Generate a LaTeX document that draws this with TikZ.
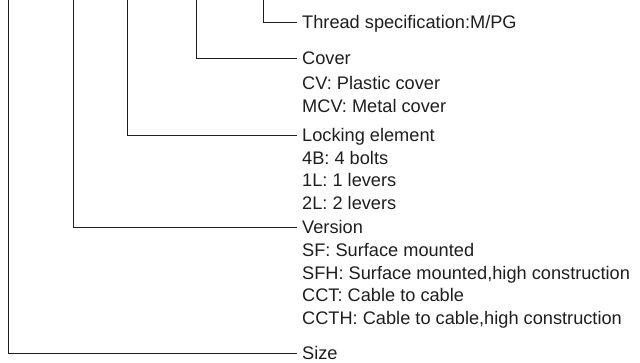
\documentclass[tikz,border=0pt]{standalone}
\usepackage{fontspec}
\setmainfont{Liberation Sans}
\definecolor{ink}{HTML}{1E1E1E}
\begin{document}
\begin{tikzpicture}[x=1pt,y=-1pt,
  conn/.style={draw=ink,line width=1pt},
  title/.style={anchor=west,inner xsep=5pt,inner ysep=0pt,text height=13pt,text depth=0pt,text=ink,font=\fontsize{18.2}{22.6}\selectfont},
  body/.style={anchor=base west,inner sep=0pt,align=left,text=ink,font=\fontsize{18.2}{22.6}\selectfont}]
\useasboundingbox (0,0) rectangle (640,362);
\coordinate (v1) at (8,0);
\coordinate (v2) at (73,0);
\coordinate (v3) at (127,0);
\coordinate (v4) at (196,0);
\coordinate (v5) at (263,0);
\node[title] (thread) at (297,22) {Thread specification:M/PG};
\node[title] (cover) at (297,58) {Cover};
\node[body] (coverb) at (302,112.5) {CV: Plastic cover\\MCV: Metal cover};
\node[title] (lock) at (297,135) {Locking element};
\node[body] (lockb) at (302,209.5) {4B: 4 bolts\\1L: 1 levers\\2L: 2 levers};
\node[title] (version) at (297,227) {Version};
\node[body] (versionb) at (302,324.5) {SF: Surface mounted\\SFH: Surface mounted,high construction\\CCT: Cable to cable\\CCTH: Cable to cable,high construction};
\node[title] (size) at (297,353) {Size};
\draw[conn] (v5) |- (thread.west);
\draw[conn] (v4) |- (cover.west);
\draw[conn] (v3) |- (lock.west);
\draw[conn] (v2) |- (version.west);
\draw[conn] (v1) |- (size.west);
\end{tikzpicture}
\end{document}
